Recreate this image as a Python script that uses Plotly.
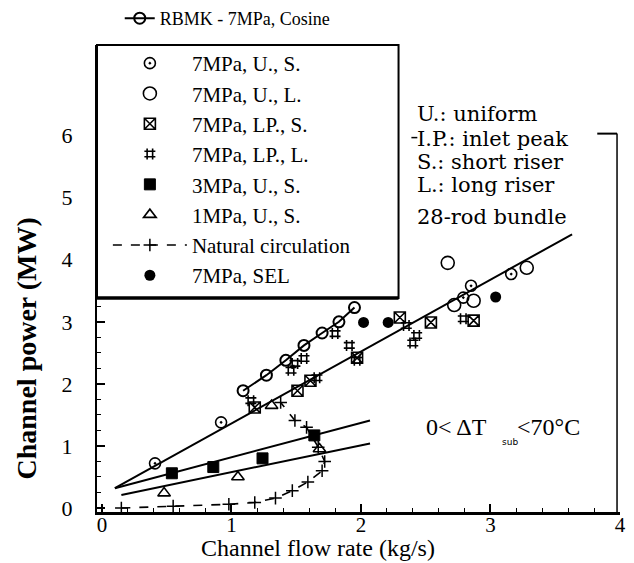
import plotly.graph_objects as go

# ---- measured series: channel flow rate (kg/s) vs channel power (MW) ----
rbmk_flow = [1.09, 1.27, 1.42, 1.56, 1.70, 1.83, 1.95]
rbmk_power = [1.89, 2.14, 2.38, 2.62, 2.82, 3.00, 3.23]

u_s_flow = [0.41, 0.92, 2.79, 2.85, 3.16]
u_s_power = [0.72, 1.38, 3.39, 3.58, 3.77]

u_l_flow = [2.67, 2.72, 2.87, 3.28]
u_l_power = [3.95, 3.27, 3.34, 3.87]

lp_s_flow = [1.18, 1.51, 1.61, 1.97, 2.30, 2.54, 2.87]
lp_s_power = [1.62, 1.89, 2.05, 2.42, 3.07, 2.99, 3.02]

lp_l_flow = [1.15, 1.46, 1.49, 1.56, 1.66, 1.80, 1.91, 1.97, 2.35, 2.40, 2.43, 2.79]
lp_l_power = [1.73, 2.22, 2.33, 2.41, 2.10, 2.81, 2.62, 2.38, 2.94, 2.66, 2.78, 3.05]

mpa3_flow = [0.54, 0.86, 1.24, 1.64]
mpa3_power = [0.56, 0.66, 0.80, 1.17]

mpa1_flow = [0.48, 1.05, 1.31, 1.68]
mpa1_power = [0.24, 0.50, 1.65, 0.95]

nc_flow = [0.15, 0.55, 0.98, 1.18, 1.34, 1.47, 1.59, 1.70, 1.72, 1.67, 1.58, 1.49, 1.38]
nc_power = [0.00, 0.03, 0.06, 0.09, 0.16, 0.28, 0.42, 0.60, 0.75, 0.98, 1.30, 1.41, 1.70]

sel_flow = [2.02, 2.21, 3.04]
sel_power = [2.99, 2.99, 3.40]

# straight-line correlations (end points)
fit7_flow = [0.10, 3.63]
fit7_power = [0.32, 4.41]
fit3_flow = [0.10, 2.07]
fit3_power = [0.32, 1.41]
fit1_flow = [0.15, 2.07]
fit1_power = [0.21, 1.04]

x_ticks = [0, 1, 2, 3, 4]
y_ticks = [0, 1, 2, 3, 4, 5, 6]

# ---- page geometry helpers ----
W, H = 634, 563
L, R, T, B = 97, 8, 43, 51
PW, PH = W - L - R, H - T - B


def px(xp):
    return (xp - L) / PW


def py(yp):
    return (H - B - yp) / PH


FONT = "Liberation Serif"
WIDE = "DejaVu Serif"
INK = "black"

fig = go.Figure()

for fx, fy in [(fit7_flow, fit7_power), (fit3_flow, fit3_power), (fit1_flow, fit1_power)]:
    fig.add_trace(go.Scatter(x=fx, y=fy, mode="lines", showlegend=False,
                             line=dict(color=INK, width=2), hoverinfo="skip"))

fig.add_trace(go.Scatter(
    x=rbmk_flow, y=rbmk_power, mode="lines+markers", name="RBMK - 7MPa, Cosine",
    legend="legend2", line=dict(color=INK, width=2),
    marker=dict(symbol="circle-open", size=11, color=INK, line=dict(width=2))))

fig.add_trace(go.Scatter(
    x=u_s_flow, y=u_s_power, mode="markers", name="7MPa, U., S.", legendgroup="a",
    marker=dict(symbol="circle-open-dot", size=11, color=INK, line=dict(width=1.6))))
fig.add_trace(go.Scatter(
    x=u_l_flow, y=u_l_power, mode="markers", name="7MPa, U., L.", legendgroup="b",
    marker=dict(symbol="circle-open", size=13, color=INK, line=dict(width=1.6))))
fig.add_trace(go.Scatter(
    x=lp_s_flow, y=lp_s_power, mode="markers", name="7MPa, LP., S.", legendgroup="c",
    marker=dict(symbol="square-x-open", size=11, color=INK, line=dict(width=1.6))))
fig.add_trace(go.Scatter(
    x=lp_l_flow, y=lp_l_power, mode="markers", name="7MPa, LP., L.", legendgroup="d",
    marker=dict(symbol="hash-open", size=11, color=INK, line=dict(width=1.6))))
fig.add_trace(go.Scatter(
    x=mpa3_flow, y=mpa3_power, mode="markers", name="3MPa, U., S.", legendgroup="e",
    marker=dict(symbol="square", size=11, color=INK, line=dict(width=1, color=INK))))
fig.add_trace(go.Scatter(
    x=mpa1_flow, y=mpa1_power, mode="markers", name="1MPa, U., S.", legendgroup="f",
    marker=dict(symbol="triangle-up-open", size=11, color=INK, line=dict(width=1.6))))
fig.add_trace(go.Scatter(
    x=nc_flow, y=nc_power, mode="lines+markers", name="Natural circulation", legendgroup="g",
    line=dict(color=INK, width=1.6, dash="dash"),
    marker=dict(symbol="cross-thin", size=9, color=INK, line=dict(width=1.5, color=INK))))
fig.add_trace(go.Scatter(
    x=sel_flow, y=sel_power, mode="markers", name="7MPa, SEL", legendgroup="h",
    marker=dict(symbol="circle", size=11, color=INK)))

shapes = [
    # legend frame
    dict(type="rect", xref="paper", yref="paper", x0=0, x1=px(402), y0=py(297), y1=1,
         fillcolor="white", line=dict(color=INK, width=2), layer="above"),
    dict(type="line", xref="paper", yref="paper", x0=0, x1=px(402), y0=py(297), y1=py(297),
         line=dict(color=INK, width=3.5), layer="above"),
    # right-hand bracket
    dict(type="line", xref="paper", yref="paper", x0=px(603), x1=px(623), y0=py(132), y1=py(132),
         line=dict(color=INK, width=2), layer="above"),
    dict(type="line", xref="paper", yref="paper", x0=px(623), x1=px(623), y0=py(132), y1=0,
         line=dict(color=INK, width=1.5), layer="above"),
    # small stub in front of the second key line
    dict(type="line", xref="paper", yref="paper", x0=px(415), x1=px(421), y0=py(136), y1=py(136),
         line=dict(color=INK, width=1.5)),
]

annotations = []
for txt, yp in [("U.: uniform", 112), ("I.P.: inlet peak", 137), ("S.: short riser", 160),
                ("L.: long riser", 184), ("28-rod bundle", 216)]:
    annotations.append(dict(text=txt, xref="paper", yref="paper", x=px(419), y=py(yp),
                            xanchor="left", yanchor="middle", showarrow=False,
                            font=dict(family=WIDE, size=21, color=INK)))

annotations += [
    dict(text="0< \u0394T", xref="paper", yref="paper", x=px(428), y=py(427), xanchor="left",
         yanchor="middle", showarrow=False, font=dict(family=FONT, size=24, color=INK)),
    dict(text="sub", xref="paper", yref="paper", x=px(505), y=py(442), xanchor="left",
         yanchor="middle", showarrow=False, font=dict(family="DejaVu Sans", size=9, color=INK)),
    dict(text="<70\u00b0C", xref="paper", yref="paper", x=px(520), y=py(427), xanchor="left",
         yanchor="middle", showarrow=False, font=dict(family=FONT, size=24, color=INK)),
    dict(text="Channel flow rate (kg/s)", xref="paper", yref="paper", x=px(321), y=py(548),
         xanchor="center", yanchor="middle", showarrow=False,
         font=dict(family=FONT, size=24, color=INK)),
    dict(text="<b>Channel power (MW)</b>", xref="paper", yref="paper", x=px(26), y=py(348),
         xanchor="center", yanchor="middle", textangle=-90, showarrow=False,
         font=dict(family=FONT, size=28, color=INK)),
]

fig.update_layout(
    width=W, height=H,
    margin=dict(l=L, r=R, t=T, b=B),
    paper_bgcolor="white", plot_bgcolor="white",
    font=dict(family=FONT, color=INK),
    showlegend=True,
    legend=dict(x=px(108), y=py(41), xanchor="left", yanchor="top",
                bgcolor="rgba(0,0,0,0)", borderwidth=0,
                font=dict(family=FONT, size=21, color=INK),
                tracegroupgap=0, itemwidth=74),
    legend2=dict(x=px(120), xref="paper", y=1 + 14 / H, yref="container",
                 xanchor="left", yanchor="top",
                 bgcolor="rgba(0,0,0,0)", borderwidth=0,
                 font=dict(family=FONT, size=18, color=INK)),
    shapes=shapes,
    annotations=annotations,
    xaxis=dict(range=[-0.038, 4.0], tickvals=x_ticks, ticks="inside", ticklen=8,
               tickwidth=1.5, tickcolor=INK, showline=True, linecolor=INK, linewidth=2.5,
               showgrid=False, zeroline=False, ticklabelstandoff=-8,
               tickfont=dict(family=FONT, size=21, color=INK),
               minor=dict(dtick=0.2, ticks="inside", ticklen=4, tickcolor=INK, tickwidth=1.2)),
    yaxis=dict(range=[-0.064, 7.46], tickvals=y_ticks, ticks="inside", ticklen=8,
               tickwidth=1.5, tickcolor=INK, showline=True, linecolor=INK, linewidth=2,
               showgrid=False, zeroline=False, ticklabelstandoff=18,
               tickfont=dict(family=FONT, size=22, color=INK),
               minor=dict(dtick=0.25, ticks="inside", ticklen=4, tickcolor=INK, tickwidth=1.2)),
)

fig.write_html("out.html")
